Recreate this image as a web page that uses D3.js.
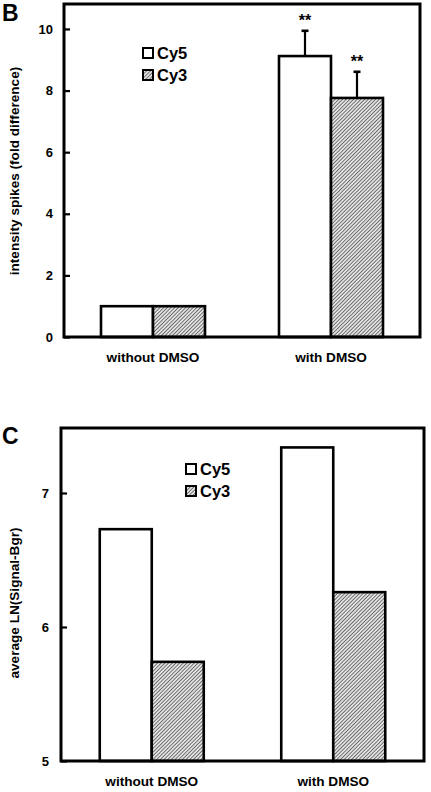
<!DOCTYPE html>
<html><head><meta charset="utf-8">
<script src="https://cdn.jsdelivr.net/npm/d3@7"></script>
<style>
html,body{margin:0;padding:0;background:#fff;}
svg text{font-family:"Liberation Sans",Arial,sans-serif;font-weight:bold;fill:#000;}
</style></head>
<body>
<svg id="chart" width="431" height="792"></svg>
<script>
const categories = ["without DMSO", "with DMSO"];
const series = ["Cy5", "Cy3"];
// Panel B: intensity spikes (fold difference)
const bCy5 = [1.0, 9.12];
const bCy3 = [1.0, 7.76];
const bCy5Err = [0, 0.82];
const bCy3Err = [0, 0.85];
const bStars = ["", "**"];
const bTicks = [0, 2, 4, 6, 8, 10];
// Panel C: average LN(Signal-Bgr)
const cCy5 = [6.73, 7.34];
const cCy3 = [5.74, 6.26];
const cTicks = [5, 6, 7];

const svg = d3.select("#chart");
const defs = svg.append("defs");
const pat = defs.append("pattern").attr("id","hatch").attr("patternUnits","userSpaceOnUse")
  .attr("width",2.6).attr("height",2.6).attr("patternTransform","rotate(45)");
pat.append("rect").attr("width",2.6).attr("height",2.6).attr("fill","#e2e2e2");
pat.append("line").attr("x1",0).attr("y1",0).attr("x2",0).attr("y2",2.6)
  .attr("stroke","#3a3a3a").attr("stroke-width",1.3);

const fills = {Cy5:"#fff", Cy3:"url(#hatch)"};

function panel(opts){
  const {x0,x1,y0,y1,domain,ticks,vals,errs,stars,letter,letterY,ylabel,ylabelY,legendX,legendY,xlabY,tickLabelGap} = opts;
  const g = svg.append("g");
  const x = d3.scaleBand().domain(categories).range([x0,x1]).padding(0);
  const xs = d3.scaleBand().domain(series).range([-52,52]).padding(0);
  const y = d3.scaleLinear().domain(domain).range([y1,y0]);
  const data = [];
  categories.forEach((c,i)=>series.forEach((s,j)=>data.push({c,s,v:vals[j][i],e:errs?errs[j][i]:0,star:stars?stars[i]:""})));
  // bars
  g.selectAll("rect.bar").data(data).join("rect").attr("class","bar")
    .attr("x",d=>x(d.c)+x.bandwidth()/2+xs(d.s))
    .attr("width",xs.bandwidth())
    .attr("y",d=>y(d.v)).attr("height",d=>y(domain[0])-y(d.v))
    .attr("fill",d=>fills[d.s]).attr("stroke","#000").attr("stroke-width",2.6);
  // error bars
  const eb = data.filter(d=>d.e>0);
  eb.forEach(d=>{
    const cx = x(d.c)+x.bandwidth()/2+xs(d.s)+xs.bandwidth()/2;
    g.append("line").attr("x1",cx).attr("x2",cx).attr("y1",y(d.v)).attr("y2",y(d.v+d.e))
      .attr("stroke","#000").attr("stroke-width",2.2);
    g.append("line").attr("x1",cx-3.5).attr("x2",cx+3.5).attr("y1",y(d.v+d.e)).attr("y2",y(d.v+d.e))
      .attr("stroke","#000").attr("stroke-width",2.6);
    if(d.star) g.append("text").attr("x",cx).attr("y",y(d.v+d.e)-5)
      .attr("text-anchor","middle").attr("font-size",16).text(d.star);
  });
  // frame
  g.append("rect").attr("x",x0).attr("y",y0).attr("width",x1-x0).attr("height",y1-y0)
    .attr("fill","none").attr("stroke","#000").attr("stroke-width",3);
  // y axis (ticks inward)
  const ax = g.append("g").attr("transform",`translate(${x0},0)`)
    .call(d3.axisRight(y).tickValues(ticks).tickSize(6).tickFormat(d3.format("d")));
  ax.select(".domain").remove();
  ax.selectAll(".tick line").attr("stroke","#000").attr("stroke-width",2.2);
  ax.selectAll(".tick text").attr("x",-tickLabelGap).attr("text-anchor","end")
    .attr("font-size",13).attr("font-family","Liberation Sans,Arial,sans-serif").attr("font-weight","bold").attr("fill","#000");
  // x labels
  categories.forEach(c=>{
    g.append("text").attr("x",x(c)+x.bandwidth()/2).attr("y",xlabY)
      .attr("text-anchor","middle").attr("font-size",13.6).text(c);
  });
  // y label
  g.append("text").attr("transform",`translate(19,${ylabelY}) rotate(-90)`)
    .attr("text-anchor","middle").attr("font-size",13.6).text(ylabel);
  // panel letter
  g.append("text").attr("x",2).attr("y",letterY).attr("font-size",23).text(letter);
  // legend
  series.forEach((s,j)=>{
    const ly = legendY + j*22;
    g.append("rect").attr("x",legendX).attr("y",ly).attr("width",10).attr("height",10)
      .attr("fill",fills[s]).attr("stroke","#000").attr("stroke-width",2);
    g.append("text").attr("x",legendX+14).attr("y",ly+10.5).attr("font-size",16.5).text(s);
  });
}

panel({x0:64,x1:420,y0:4,y1:337,domain:[0,10.81],ticks:bTicks,
  vals:[bCy5,bCy3],errs:[bCy5Err,bCy3Err],stars:bStars,
  letter:"B",letterY:21,ylabel:"intensity spikes (fold difference)",ylabelY:171,
  legendX:143,legendY:48,xlabY:362,tickLabelGap:11});

panel({x0:61,x1:424,y0:428,y1:761,domain:[5,7.485],ticks:cTicks,
  vals:[cCy5,cCy3],errs:null,stars:null,
  letter:"C",letterY:444,ylabel:"average LN(Signal-Bgr)",ylabelY:603,
  legendX:186,legendY:464,xlabY:786,tickLabelGap:12});
</script>
</body></html>
